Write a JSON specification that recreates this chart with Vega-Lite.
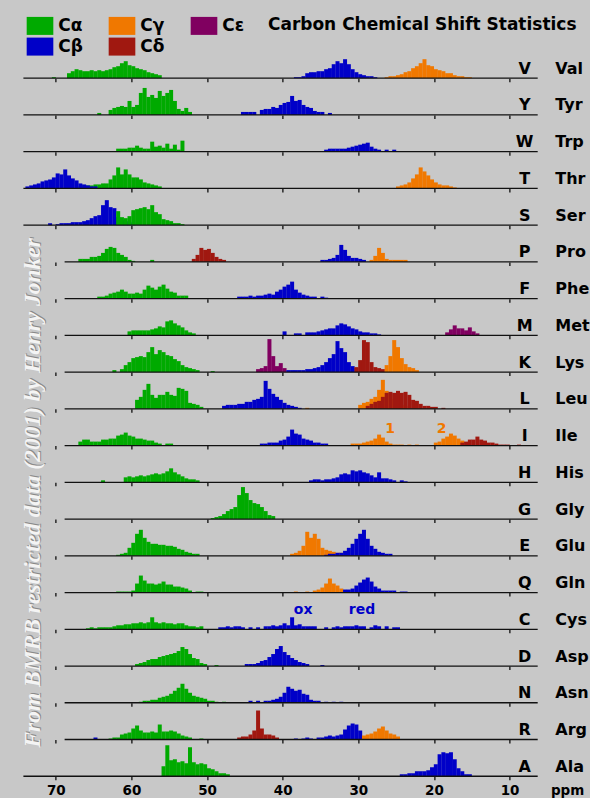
{
"background": "#c8c8c8",
"padding": {"left": 18.4, "top": 16.7, "right": 5, "bottom": 0},
"bounds": "flush",
"data": {"values": [
{"r":"V","n":"Val"},{"r":"Y","n":"Tyr"},{"r":"W","n":"Trp"},{"r":"T","n":"Thr"},{"r":"S","n":"Ser"},{"r":"P","n":"Pro"},{"r":"F","n":"Phe"},{"r":"M","n":"Met"},{"r":"K","n":"Lys"},{"r":"L","n":"Leu"},{"r":"I","n":"Ile"},{"r":"H","n":"His"},{"r":"G","n":"Gly"},{"r":"E","n":"Glu"},{"r":"Q","n":"Gln"},{"r":"C","n":"Cys"},{"r":"D","n":"Asp"},{"r":"N","n":"Asn"},{"r":"R","n":"Arg"},{"r":"A","n":"Ala"},
{"r":"I","x":25.8,"t":"1"},{"r":"I","x":19.0,"t":"2"},{"r":"C","x":37.3,"t":"ox"},{"r":"C","x":29.5,"t":"red"},
{"r":"V","c":"a","x":70.25,"y":1},{"r":"V","c":"a","x":68.25,"y":5},{"r":"V","c":"a","x":67.75,"y":7},{"r":"V","c":"a","x":67.25,"y":9},{"r":"V","c":"a","x":66.75,"y":8},{"r":"V","c":"a","x":66.25,"y":7},{"r":"V","c":"a","x":65.75,"y":7},{"r":"V","c":"a","x":65.25,"y":8},{"r":"V","c":"a","x":64.75,"y":7},{"r":"V","c":"a","x":64.25,"y":8},{"r":"V","c":"a","x":63.75,"y":7},{"r":"V","c":"a","x":63.25,"y":8},{"r":"V","c":"a","x":62.75,"y":9},{"r":"V","c":"a","x":62.25,"y":11},{"r":"V","c":"a","x":61.75,"y":12},{"r":"V","c":"a","x":61.25,"y":15},{"r":"V","c":"a","x":60.75,"y":17},{"r":"V","c":"a","x":60.25,"y":13},{"r":"V","c":"a","x":59.75,"y":12},{"r":"V","c":"a","x":59.25,"y":10},{"r":"V","c":"a","x":58.75,"y":9},{"r":"V","c":"a","x":58.25,"y":8},{"r":"V","c":"a","x":57.75,"y":6},{"r":"V","c":"a","x":57.25,"y":5},{"r":"V","c":"a","x":56.75,"y":4},{"r":"V","c":"a","x":56.25,"y":3},
{"r":"V","c":"b","x":38.25,"y":1},{"r":"V","c":"b","x":37.75,"y":1},{"r":"V","c":"b","x":37.25,"y":2},{"r":"V","c":"b","x":36.75,"y":5},{"r":"V","c":"b","x":36.25,"y":6},{"r":"V","c":"b","x":35.75,"y":6},{"r":"V","c":"b","x":35.25,"y":7},{"r":"V","c":"b","x":34.75,"y":7},{"r":"V","c":"b","x":34.25,"y":9},{"r":"V","c":"b","x":33.75,"y":10},{"r":"V","c":"b","x":33.25,"y":14},{"r":"V","c":"b","x":32.75,"y":17},{"r":"V","c":"b","x":32.25,"y":15},{"r":"V","c":"b","x":31.75,"y":19},{"r":"V","c":"b","x":31.25,"y":14},{"r":"V","c":"b","x":30.75,"y":9},{"r":"V","c":"b","x":30.25,"y":6},{"r":"V","c":"b","x":29.75,"y":4},{"r":"V","c":"b","x":29.25,"y":3},{"r":"V","c":"b","x":28.75,"y":2},{"r":"V","c":"b","x":28.25,"y":2},{"r":"V","c":"b","x":27.75,"y":1},
{"r":"V","c":"g","x":26.25,"y":1},{"r":"V","c":"g","x":25.75,"y":2},{"r":"V","c":"g","x":25.25,"y":2},{"r":"V","c":"g","x":24.75,"y":3},{"r":"V","c":"g","x":24.25,"y":4},{"r":"V","c":"g","x":23.75,"y":6},{"r":"V","c":"g","x":23.25,"y":7},{"r":"V","c":"g","x":22.75,"y":10},{"r":"V","c":"g","x":22.25,"y":12},{"r":"V","c":"g","x":21.75,"y":15},{"r":"V","c":"g","x":21.25,"y":19},{"r":"V","c":"g","x":20.75,"y":13},{"r":"V","c":"g","x":20.25,"y":12},{"r":"V","c":"g","x":19.75,"y":9},{"r":"V","c":"g","x":19.25,"y":8},{"r":"V","c":"g","x":18.75,"y":7},{"r":"V","c":"g","x":18.25,"y":5},{"r":"V","c":"g","x":17.75,"y":5},{"r":"V","c":"g","x":17.25,"y":3},{"r":"V","c":"g","x":16.75,"y":2},{"r":"V","c":"g","x":16.25,"y":2},{"r":"V","c":"g","x":15.75,"y":1},{"r":"V","c":"g","x":15.25,"y":1},
{"r":"Y","c":"a","x":64.25,"y":2},{"r":"Y","c":"a","x":62.75,"y":5},{"r":"Y","c":"a","x":62.25,"y":7},{"r":"Y","c":"a","x":61.75,"y":8},{"r":"Y","c":"a","x":61.25,"y":9},{"r":"Y","c":"a","x":60.75,"y":8},{"r":"Y","c":"a","x":60.25,"y":14},{"r":"Y","c":"a","x":59.75,"y":8},{"r":"Y","c":"a","x":59.25,"y":10},{"r":"Y","c":"a","x":58.75,"y":22},{"r":"Y","c":"a","x":58.25,"y":27},{"r":"Y","c":"a","x":57.75,"y":18},{"r":"Y","c":"a","x":57.25,"y":20},{"r":"Y","c":"a","x":56.75,"y":17},{"r":"Y","c":"a","x":56.25,"y":24},{"r":"Y","c":"a","x":55.75,"y":19},{"r":"Y","c":"a","x":55.25,"y":22},{"r":"Y","c":"a","x":54.75,"y":25},{"r":"Y","c":"a","x":54.25,"y":14},{"r":"Y","c":"a","x":53.75,"y":6},{"r":"Y","c":"a","x":53.25,"y":4},{"r":"Y","c":"a","x":52.75,"y":7},{"r":"Y","c":"a","x":52.25,"y":3},
{"r":"Y","c":"b","x":45.25,"y":3},{"r":"Y","c":"b","x":44.75,"y":3},{"r":"Y","c":"b","x":44.25,"y":3},{"r":"Y","c":"b","x":43.75,"y":3},{"r":"Y","c":"b","x":42.75,"y":5},{"r":"Y","c":"b","x":42.25,"y":6},{"r":"Y","c":"b","x":41.75,"y":6},{"r":"Y","c":"b","x":41.25,"y":8},{"r":"Y","c":"b","x":40.75,"y":7},{"r":"Y","c":"b","x":40.25,"y":10},{"r":"Y","c":"b","x":39.75,"y":12},{"r":"Y","c":"b","x":39.25,"y":13},{"r":"Y","c":"b","x":38.75,"y":19},{"r":"Y","c":"b","x":38.25,"y":14},{"r":"Y","c":"b","x":37.75,"y":15},{"r":"Y","c":"b","x":37.25,"y":10},{"r":"Y","c":"b","x":36.75,"y":8},{"r":"Y","c":"b","x":36.25,"y":7},{"r":"Y","c":"b","x":35.75,"y":4},{"r":"Y","c":"b","x":35.25,"y":3},{"r":"Y","c":"b","x":34.75,"y":3},{"r":"Y","c":"b","x":33.75,"y":2},
{"r":"W","c":"a","x":61.75,"y":3},{"r":"W","c":"a","x":61.25,"y":3},{"r":"W","c":"a","x":60.75,"y":3},{"r":"W","c":"a","x":60.25,"y":4},{"r":"W","c":"a","x":59.75,"y":4},{"r":"W","c":"a","x":59.25,"y":6},{"r":"W","c":"a","x":58.75,"y":4},{"r":"W","c":"a","x":58.25,"y":3},{"r":"W","c":"a","x":57.75,"y":3},{"r":"W","c":"a","x":57.25,"y":10},{"r":"W","c":"a","x":56.75,"y":5},{"r":"W","c":"a","x":56.25,"y":6},{"r":"W","c":"a","x":55.75,"y":4},{"r":"W","c":"a","x":55.25,"y":8},{"r":"W","c":"a","x":54.75,"y":3},{"r":"W","c":"a","x":54.25,"y":7},{"r":"W","c":"a","x":53.75,"y":2},{"r":"W","c":"a","x":53.25,"y":11},
{"r":"W","c":"b","x":34.25,"y":2},{"r":"W","c":"b","x":33.75,"y":3},{"r":"W","c":"b","x":33.25,"y":3},{"r":"W","c":"b","x":32.75,"y":3},{"r":"W","c":"b","x":32.25,"y":3},{"r":"W","c":"b","x":31.75,"y":3},{"r":"W","c":"b","x":31.25,"y":4},{"r":"W","c":"b","x":30.75,"y":5},{"r":"W","c":"b","x":30.25,"y":6},{"r":"W","c":"b","x":29.75,"y":7},{"r":"W","c":"b","x":29.25,"y":8},{"r":"W","c":"b","x":28.75,"y":9},{"r":"W","c":"b","x":28.25,"y":5},{"r":"W","c":"b","x":27.75,"y":3},{"r":"W","c":"b","x":27.25,"y":2},{"r":"W","c":"b","x":26.25,"y":2},{"r":"W","c":"b","x":25.25,"y":2},
{"r":"T","c":"a","x":66.75,"y":2},{"r":"T","c":"a","x":66.25,"y":3},{"r":"T","c":"a","x":65.75,"y":3},{"r":"T","c":"a","x":65.25,"y":3},{"r":"T","c":"a","x":64.75,"y":4},{"r":"T","c":"a","x":64.25,"y":4},{"r":"T","c":"a","x":63.75,"y":5},{"r":"T","c":"a","x":63.25,"y":5},{"r":"T","c":"a","x":62.75,"y":9},{"r":"T","c":"a","x":62.25,"y":13},{"r":"T","c":"a","x":61.75,"y":21},{"r":"T","c":"a","x":61.25,"y":14},{"r":"T","c":"a","x":60.75,"y":19},{"r":"T","c":"a","x":60.25,"y":14},{"r":"T","c":"a","x":59.75,"y":11},{"r":"T","c":"a","x":59.25,"y":11},{"r":"T","c":"a","x":58.75,"y":9},{"r":"T","c":"a","x":58.25,"y":6},{"r":"T","c":"a","x":57.75,"y":5},{"r":"T","c":"a","x":57.25,"y":4},{"r":"T","c":"a","x":56.75,"y":3},{"r":"T","c":"a","x":56.25,"y":2},
{"r":"T","c":"b","x":73.75,"y":2},{"r":"T","c":"b","x":73.25,"y":3},{"r":"T","c":"b","x":72.75,"y":4},{"r":"T","c":"b","x":72.25,"y":5},{"r":"T","c":"b","x":71.75,"y":7},{"r":"T","c":"b","x":71.25,"y":8},{"r":"T","c":"b","x":70.75,"y":9},{"r":"T","c":"b","x":70.25,"y":11},{"r":"T","c":"b","x":69.75,"y":15},{"r":"T","c":"b","x":69.25,"y":14},{"r":"T","c":"b","x":68.75,"y":19},{"r":"T","c":"b","x":68.25,"y":13},{"r":"T","c":"b","x":67.75,"y":10},{"r":"T","c":"b","x":67.25,"y":8},{"r":"T","c":"b","x":66.75,"y":5},{"r":"T","c":"b","x":66.25,"y":4},{"r":"T","c":"b","x":65.75,"y":3},{"r":"T","c":"b","x":65.25,"y":2},{"r":"T","c":"b","x":64.75,"y":2},
{"r":"T","c":"g","x":24.75,"y":2},{"r":"T","c":"g","x":24.25,"y":3},{"r":"T","c":"g","x":23.75,"y":4},{"r":"T","c":"g","x":23.25,"y":6},{"r":"T","c":"g","x":22.75,"y":10},{"r":"T","c":"g","x":22.25,"y":14},{"r":"T","c":"g","x":21.75,"y":21},{"r":"T","c":"g","x":21.25,"y":17},{"r":"T","c":"g","x":20.75,"y":13},{"r":"T","c":"g","x":20.25,"y":9},{"r":"T","c":"g","x":19.75,"y":6},{"r":"T","c":"g","x":19.25,"y":4},{"r":"T","c":"g","x":18.75,"y":3},{"r":"T","c":"g","x":18.25,"y":3},{"r":"T","c":"g","x":17.75,"y":2},{"r":"T","c":"g","x":17.25,"y":1},
{"r":"S","c":"b","x":70.75,"y":2},{"r":"S","c":"b","x":69.75,"y":1},{"r":"S","c":"b","x":69.25,"y":2},{"r":"S","c":"b","x":68.75,"y":2},{"r":"S","c":"b","x":68.25,"y":2},{"r":"S","c":"b","x":67.75,"y":3},{"r":"S","c":"b","x":67.25,"y":3},{"r":"S","c":"b","x":66.75,"y":3},{"r":"S","c":"b","x":66.25,"y":4},{"r":"S","c":"b","x":65.75,"y":5},{"r":"S","c":"b","x":65.25,"y":7},{"r":"S","c":"b","x":64.75,"y":9},{"r":"S","c":"b","x":64.25,"y":10},{"r":"S","c":"b","x":63.75,"y":20},{"r":"S","c":"b","x":63.25,"y":25},{"r":"S","c":"b","x":62.75,"y":18},{"r":"S","c":"b","x":62.25,"y":17},{"r":"S","c":"b","x":61.75,"y":8},{"r":"S","c":"b","x":61.25,"y":5},{"r":"S","c":"b","x":60.75,"y":4},{"r":"S","c":"b","x":60.25,"y":3},{"r":"S","c":"b","x":59.75,"y":2},
{"r":"S","c":"a","x":61.75,"y":14},{"r":"S","c":"a","x":61.25,"y":8},{"r":"S","c":"a","x":60.75,"y":7},{"r":"S","c":"a","x":60.25,"y":9},{"r":"S","c":"a","x":59.75,"y":15},{"r":"S","c":"a","x":59.25,"y":16},{"r":"S","c":"a","x":58.75,"y":17},{"r":"S","c":"a","x":58.25,"y":18},{"r":"S","c":"a","x":57.75,"y":16},{"r":"S","c":"a","x":57.25,"y":20},{"r":"S","c":"a","x":56.75,"y":13},{"r":"S","c":"a","x":56.25,"y":11},{"r":"S","c":"a","x":55.75,"y":6},{"r":"S","c":"a","x":55.25,"y":5},{"r":"S","c":"a","x":54.75,"y":4},{"r":"S","c":"a","x":54.25,"y":2},{"r":"S","c":"a","x":53.75,"y":2},{"r":"S","c":"a","x":53.25,"y":1},
{"r":"P","c":"a","x":66.75,"y":3},{"r":"P","c":"a","x":66.25,"y":3},{"r":"P","c":"a","x":65.75,"y":3},{"r":"P","c":"a","x":65.25,"y":5},{"r":"P","c":"a","x":64.75,"y":5},{"r":"P","c":"a","x":64.25,"y":6},{"r":"P","c":"a","x":63.75,"y":9},{"r":"P","c":"a","x":63.25,"y":13},{"r":"P","c":"a","x":62.75,"y":15},{"r":"P","c":"a","x":62.25,"y":14},{"r":"P","c":"a","x":61.75,"y":9},{"r":"P","c":"a","x":61.25,"y":7},{"r":"P","c":"a","x":60.75,"y":5},{"r":"P","c":"a","x":60.25,"y":2},{"r":"P","c":"a","x":59.75,"y":1},{"r":"P","c":"a","x":57.25,"y":2},
{"r":"P","c":"d","x":51.75,"y":3},{"r":"P","c":"d","x":51.25,"y":7},{"r":"P","c":"d","x":50.75,"y":14},{"r":"P","c":"d","x":50.25,"y":12},{"r":"P","c":"d","x":49.75,"y":13},{"r":"P","c":"d","x":49.25,"y":9},{"r":"P","c":"d","x":48.75,"y":5},{"r":"P","c":"d","x":48.25,"y":3},{"r":"P","c":"d","x":47.75,"y":2},
{"r":"P","c":"b","x":34.75,"y":2},{"r":"P","c":"b","x":34.25,"y":2},{"r":"P","c":"b","x":33.75,"y":3},{"r":"P","c":"b","x":33.25,"y":4},{"r":"P","c":"b","x":32.75,"y":7},{"r":"P","c":"b","x":32.25,"y":17},{"r":"P","c":"b","x":31.75,"y":12},{"r":"P","c":"b","x":31.25,"y":6},{"r":"P","c":"b","x":30.75,"y":4},{"r":"P","c":"b","x":30.25,"y":4},{"r":"P","c":"b","x":29.75,"y":3},{"r":"P","c":"b","x":29.25,"y":2},
{"r":"P","c":"g","x":28.25,"y":2},{"r":"P","c":"g","x":27.75,"y":6},{"r":"P","c":"g","x":27.25,"y":14},{"r":"P","c":"g","x":26.75,"y":9},{"r":"P","c":"g","x":26.25,"y":3},{"r":"P","c":"g","x":25.75,"y":2},{"r":"P","c":"g","x":25.25,"y":2},{"r":"P","c":"g","x":24.75,"y":2},{"r":"P","c":"g","x":24.25,"y":2},{"r":"P","c":"g","x":23.75,"y":2},
{"r":"F","c":"a","x":64.25,"y":2},{"r":"F","c":"a","x":63.75,"y":2},{"r":"F","c":"a","x":63.25,"y":3},{"r":"F","c":"a","x":62.75,"y":5},{"r":"F","c":"a","x":62.25,"y":6},{"r":"F","c":"a","x":61.75,"y":7},{"r":"F","c":"a","x":61.25,"y":9},{"r":"F","c":"a","x":60.75,"y":7},{"r":"F","c":"a","x":60.25,"y":5},{"r":"F","c":"a","x":59.75,"y":5},{"r":"F","c":"a","x":59.25,"y":6},{"r":"F","c":"a","x":58.75,"y":5},{"r":"F","c":"a","x":58.25,"y":9},{"r":"F","c":"a","x":57.75,"y":13},{"r":"F","c":"a","x":57.25,"y":11},{"r":"F","c":"a","x":56.75,"y":9},{"r":"F","c":"a","x":56.25,"y":12},{"r":"F","c":"a","x":55.75,"y":14},{"r":"F","c":"a","x":55.25,"y":10},{"r":"F","c":"a","x":54.75,"y":7},{"r":"F","c":"a","x":54.25,"y":6},{"r":"F","c":"a","x":53.75,"y":3},{"r":"F","c":"a","x":53.25,"y":3},{"r":"F","c":"a","x":52.75,"y":3},
{"r":"F","c":"b","x":45.75,"y":2},{"r":"F","c":"b","x":45.25,"y":2},{"r":"F","c":"b","x":44.75,"y":2},{"r":"F","c":"b","x":44.25,"y":3},{"r":"F","c":"b","x":43.75,"y":2},{"r":"F","c":"b","x":43.25,"y":3},{"r":"F","c":"b","x":42.75,"y":3},{"r":"F","c":"b","x":42.25,"y":4},{"r":"F","c":"b","x":41.75,"y":5},{"r":"F","c":"b","x":41.25,"y":4},{"r":"F","c":"b","x":40.75,"y":7},{"r":"F","c":"b","x":40.25,"y":9},{"r":"F","c":"b","x":39.75,"y":12},{"r":"F","c":"b","x":39.25,"y":14},{"r":"F","c":"b","x":38.75,"y":17},{"r":"F","c":"b","x":38.25,"y":9},{"r":"F","c":"b","x":37.75,"y":6},{"r":"F","c":"b","x":37.25,"y":4},{"r":"F","c":"b","x":36.75,"y":3},{"r":"F","c":"b","x":36.25,"y":2},{"r":"F","c":"b","x":35.75,"y":2},{"r":"F","c":"b","x":34.75,"y":2},{"r":"F","c":"b","x":34.25,"y":1},
{"r":"M","c":"a","x":60.25,"y":4},{"r":"M","c":"a","x":59.75,"y":5},{"r":"M","c":"a","x":59.25,"y":5},{"r":"M","c":"a","x":58.75,"y":5},{"r":"M","c":"a","x":58.25,"y":5},{"r":"M","c":"a","x":57.75,"y":5},{"r":"M","c":"a","x":57.25,"y":6},{"r":"M","c":"a","x":56.75,"y":7},{"r":"M","c":"a","x":56.25,"y":9},{"r":"M","c":"a","x":55.75,"y":8},{"r":"M","c":"a","x":55.25,"y":14},{"r":"M","c":"a","x":54.75,"y":15},{"r":"M","c":"a","x":54.25,"y":12},{"r":"M","c":"a","x":53.75,"y":10},{"r":"M","c":"a","x":53.25,"y":8},{"r":"M","c":"a","x":52.75,"y":5},{"r":"M","c":"a","x":52.25,"y":3},{"r":"M","c":"a","x":51.75,"y":2},
{"r":"M","c":"b","x":39.75,"y":4},{"r":"M","c":"b","x":38.25,"y":2},{"r":"M","c":"b","x":37.75,"y":2},{"r":"M","c":"b","x":36.75,"y":3},{"r":"M","c":"b","x":36.25,"y":3},{"r":"M","c":"b","x":35.75,"y":3},{"r":"M","c":"b","x":35.25,"y":4},{"r":"M","c":"b","x":34.75,"y":5},{"r":"M","c":"b","x":34.25,"y":6},{"r":"M","c":"b","x":33.75,"y":7},{"r":"M","c":"b","x":33.25,"y":7},{"r":"M","c":"b","x":32.75,"y":10},{"r":"M","c":"b","x":32.25,"y":12},{"r":"M","c":"b","x":31.75,"y":11},{"r":"M","c":"b","x":31.25,"y":9},{"r":"M","c":"b","x":30.75,"y":7},{"r":"M","c":"b","x":30.25,"y":6},{"r":"M","c":"b","x":29.75,"y":4},{"r":"M","c":"b","x":29.25,"y":3},{"r":"M","c":"b","x":28.75,"y":3},{"r":"M","c":"b","x":28.25,"y":2},{"r":"M","c":"b","x":27.75,"y":2},{"r":"M","c":"b","x":27.25,"y":1},
{"r":"M","c":"e","x":18.25,"y":3},{"r":"M","c":"e","x":17.75,"y":6},{"r":"M","c":"e","x":17.25,"y":10},{"r":"M","c":"e","x":16.75,"y":7},{"r":"M","c":"e","x":16.25,"y":7},{"r":"M","c":"e","x":15.75,"y":5},{"r":"M","c":"e","x":15.25,"y":8},{"r":"M","c":"e","x":14.75,"y":4},{"r":"M","c":"e","x":14.25,"y":2},
{"r":"K","c":"a","x":62.25,"y":2},{"r":"K","c":"a","x":61.25,"y":3},{"r":"K","c":"a","x":60.75,"y":7},{"r":"K","c":"a","x":60.25,"y":10},{"r":"K","c":"a","x":59.75,"y":14},{"r":"K","c":"a","x":59.25,"y":15},{"r":"K","c":"a","x":58.75,"y":16},{"r":"K","c":"a","x":58.25,"y":15},{"r":"K","c":"a","x":57.75,"y":20},{"r":"K","c":"a","x":57.25,"y":25},{"r":"K","c":"a","x":56.75,"y":18},{"r":"K","c":"a","x":56.25,"y":22},{"r":"K","c":"a","x":55.75,"y":20},{"r":"K","c":"a","x":55.25,"y":17},{"r":"K","c":"a","x":54.75,"y":16},{"r":"K","c":"a","x":54.25,"y":13},{"r":"K","c":"a","x":53.75,"y":11},{"r":"K","c":"a","x":53.25,"y":7},{"r":"K","c":"a","x":52.75,"y":5},{"r":"K","c":"a","x":52.25,"y":4},{"r":"K","c":"a","x":51.75,"y":3},{"r":"K","c":"a","x":51.25,"y":2},{"r":"K","c":"a","x":49.25,"y":1},
{"r":"K","c":"e","x":43.25,"y":3},{"r":"K","c":"e","x":42.75,"y":4},{"r":"K","c":"e","x":42.25,"y":6},{"r":"K","c":"e","x":41.75,"y":33},{"r":"K","c":"e","x":41.25,"y":16},{"r":"K","c":"e","x":40.75,"y":6},{"r":"K","c":"e","x":40.25,"y":9},{"r":"K","c":"e","x":39.75,"y":4},
{"r":"K","c":"b","x":39.25,"y":2},{"r":"K","c":"b","x":38.75,"y":2},{"r":"K","c":"b","x":38.25,"y":2},{"r":"K","c":"b","x":37.75,"y":2},{"r":"K","c":"b","x":37.25,"y":2},{"r":"K","c":"b","x":36.75,"y":3},{"r":"K","c":"b","x":36.25,"y":3},{"r":"K","c":"b","x":35.75,"y":4},{"r":"K","c":"b","x":35.25,"y":5},{"r":"K","c":"b","x":34.75,"y":7},{"r":"K","c":"b","x":34.25,"y":10},{"r":"K","c":"b","x":33.75,"y":14},{"r":"K","c":"b","x":33.25,"y":18},{"r":"K","c":"b","x":32.75,"y":31},{"r":"K","c":"b","x":32.25,"y":24},{"r":"K","c":"b","x":31.75,"y":20},{"r":"K","c":"b","x":31.25,"y":10},{"r":"K","c":"b","x":30.75,"y":6},{"r":"K","c":"b","x":30.25,"y":4},
{"r":"K","c":"d","x":30.25,"y":5},{"r":"K","c":"d","x":29.75,"y":12},{"r":"K","c":"d","x":29.25,"y":32},{"r":"K","c":"d","x":28.75,"y":30},{"r":"K","c":"d","x":28.25,"y":10},{"r":"K","c":"d","x":27.75,"y":5},{"r":"K","c":"d","x":27.25,"y":4},{"r":"K","c":"d","x":26.75,"y":3},
{"r":"K","c":"g","x":26.25,"y":7},{"r":"K","c":"g","x":25.75,"y":16},{"r":"K","c":"g","x":25.25,"y":32},{"r":"K","c":"g","x":24.75,"y":25},{"r":"K","c":"g","x":24.25,"y":14},{"r":"K","c":"g","x":23.75,"y":8},{"r":"K","c":"g","x":23.25,"y":5},{"r":"K","c":"g","x":22.75,"y":4},{"r":"K","c":"g","x":22.25,"y":2},
{"r":"L","c":"a","x":59.25,"y":9},{"r":"L","c":"a","x":58.75,"y":12},{"r":"L","c":"a","x":58.25,"y":19},{"r":"L","c":"a","x":57.75,"y":25},{"r":"L","c":"a","x":57.25,"y":14},{"r":"L","c":"a","x":56.75,"y":11},{"r":"L","c":"a","x":56.25,"y":14},{"r":"L","c":"a","x":55.75,"y":14},{"r":"L","c":"a","x":55.25,"y":17},{"r":"L","c":"a","x":54.75,"y":14},{"r":"L","c":"a","x":54.25,"y":13},{"r":"L","c":"a","x":53.75,"y":21},{"r":"L","c":"a","x":53.25,"y":20},{"r":"L","c":"a","x":52.75,"y":18},{"r":"L","c":"a","x":52.25,"y":6},{"r":"L","c":"a","x":51.75,"y":5},{"r":"L","c":"a","x":51.25,"y":4},{"r":"L","c":"a","x":50.75,"y":2},
{"r":"L","c":"b","x":47.75,"y":3},{"r":"L","c":"b","x":47.25,"y":4},{"r":"L","c":"b","x":46.75,"y":4},{"r":"L","c":"b","x":46.25,"y":4},{"r":"L","c":"b","x":45.75,"y":5},{"r":"L","c":"b","x":45.25,"y":5},{"r":"L","c":"b","x":44.75,"y":7},{"r":"L","c":"b","x":44.25,"y":7},{"r":"L","c":"b","x":43.75,"y":9},{"r":"L","c":"b","x":43.25,"y":10},{"r":"L","c":"b","x":42.75,"y":12},{"r":"L","c":"b","x":42.25,"y":28},{"r":"L","c":"b","x":41.75,"y":20},{"r":"L","c":"b","x":41.25,"y":15},{"r":"L","c":"b","x":40.75,"y":12},{"r":"L","c":"b","x":40.25,"y":9},{"r":"L","c":"b","x":39.75,"y":6},{"r":"L","c":"b","x":39.25,"y":4},{"r":"L","c":"b","x":38.75,"y":3},{"r":"L","c":"b","x":38.25,"y":2},{"r":"L","c":"b","x":37.75,"y":1},
{"r":"L","c":"g","x":36.75,"y":1},{"r":"L","c":"g","x":29.75,"y":4},{"r":"L","c":"g","x":29.25,"y":6},{"r":"L","c":"g","x":28.75,"y":7},{"r":"L","c":"g","x":28.25,"y":10},{"r":"L","c":"g","x":27.75,"y":12},{"r":"L","c":"g","x":27.25,"y":19},{"r":"L","c":"g","x":26.75,"y":29},{"r":"L","c":"g","x":26.25,"y":18},{"r":"L","c":"g","x":25.75,"y":14},{"r":"L","c":"g","x":25.25,"y":10},{"r":"L","c":"g","x":24.75,"y":7},{"r":"L","c":"g","x":24.25,"y":4},{"r":"L","c":"g","x":23.75,"y":3},
{"r":"L","c":"d","x":28.75,"y":3},{"r":"L","c":"d","x":28.25,"y":5},{"r":"L","c":"d","x":27.75,"y":7},{"r":"L","c":"d","x":27.25,"y":8},{"r":"L","c":"d","x":26.75,"y":12},{"r":"L","c":"d","x":26.25,"y":16},{"r":"L","c":"d","x":25.75,"y":17},{"r":"L","c":"d","x":25.25,"y":16},{"r":"L","c":"d","x":24.75,"y":18},{"r":"L","c":"d","x":24.25,"y":16},{"r":"L","c":"d","x":23.75,"y":17},{"r":"L","c":"d","x":23.25,"y":14},{"r":"L","c":"d","x":22.75,"y":9},{"r":"L","c":"d","x":22.25,"y":8},{"r":"L","c":"d","x":21.75,"y":5},{"r":"L","c":"d","x":21.25,"y":3},{"r":"L","c":"d","x":20.75,"y":3},{"r":"L","c":"d","x":20.25,"y":2},{"r":"L","c":"d","x":19.75,"y":2},{"r":"L","c":"d","x":18.75,"y":1},
{"r":"I","c":"a","x":66.75,"y":4},{"r":"I","c":"a","x":66.25,"y":6},{"r":"I","c":"a","x":65.75,"y":6},{"r":"I","c":"a","x":65.25,"y":4},{"r":"I","c":"a","x":64.75,"y":4},{"r":"I","c":"a","x":64.25,"y":4},{"r":"I","c":"a","x":63.75,"y":6},{"r":"I","c":"a","x":63.25,"y":6},{"r":"I","c":"a","x":62.75,"y":7},{"r":"I","c":"a","x":62.25,"y":7},{"r":"I","c":"a","x":61.75,"y":10},{"r":"I","c":"a","x":61.25,"y":11},{"r":"I","c":"a","x":60.75,"y":13},{"r":"I","c":"a","x":60.25,"y":10},{"r":"I","c":"a","x":59.75,"y":9},{"r":"I","c":"a","x":59.25,"y":7},{"r":"I","c":"a","x":58.75,"y":7},{"r":"I","c":"a","x":58.25,"y":6},{"r":"I","c":"a","x":57.75,"y":5},{"r":"I","c":"a","x":57.25,"y":5},{"r":"I","c":"a","x":56.75,"y":3},{"r":"I","c":"a","x":56.25,"y":2},{"r":"I","c":"a","x":55.25,"y":2},{"r":"I","c":"a","x":54.75,"y":2},
{"r":"I","c":"b","x":42.75,"y":2},{"r":"I","c":"b","x":42.25,"y":2},{"r":"I","c":"b","x":41.75,"y":3},{"r":"I","c":"b","x":41.25,"y":3},{"r":"I","c":"b","x":40.75,"y":3},{"r":"I","c":"b","x":40.25,"y":5},{"r":"I","c":"b","x":39.75,"y":6},{"r":"I","c":"b","x":39.25,"y":9},{"r":"I","c":"b","x":38.75,"y":16},{"r":"I","c":"b","x":38.25,"y":12},{"r":"I","c":"b","x":37.75,"y":11},{"r":"I","c":"b","x":37.25,"y":7},{"r":"I","c":"b","x":36.75,"y":6},{"r":"I","c":"b","x":36.25,"y":5},{"r":"I","c":"b","x":35.75,"y":3},{"r":"I","c":"b","x":35.25,"y":3},{"r":"I","c":"b","x":34.75,"y":2},{"r":"I","c":"b","x":34.25,"y":2},
{"r":"I","c":"g","x":30.75,"y":2},{"r":"I","c":"g","x":30.25,"y":2},{"r":"I","c":"g","x":29.75,"y":2},{"r":"I","c":"g","x":29.25,"y":3},{"r":"I","c":"g","x":28.75,"y":4},{"r":"I","c":"g","x":28.25,"y":5},{"r":"I","c":"g","x":27.75,"y":7},{"r":"I","c":"g","x":27.25,"y":11},{"r":"I","c":"g","x":26.75,"y":8},{"r":"I","c":"g","x":26.25,"y":4},{"r":"I","c":"g","x":25.75,"y":2},{"r":"I","c":"g","x":25.25,"y":1},{"r":"I","c":"g","x":24.75,"y":1},{"r":"I","c":"g","x":24.25,"y":1},{"r":"I","c":"g","x":23.25,"y":1},{"r":"I","c":"g","x":22.25,"y":1},{"r":"I","c":"g","x":19.75,"y":3},{"r":"I","c":"g","x":19.25,"y":4},{"r":"I","c":"g","x":18.75,"y":7},{"r":"I","c":"g","x":18.25,"y":9},{"r":"I","c":"g","x":17.75,"y":12},{"r":"I","c":"g","x":17.25,"y":10},{"r":"I","c":"g","x":16.75,"y":7},{"r":"I","c":"g","x":16.25,"y":5},
{"r":"I","c":"d","x":16.25,"y":3},{"r":"I","c":"d","x":15.75,"y":4},{"r":"I","c":"d","x":15.25,"y":6},{"r":"I","c":"d","x":14.75,"y":6},{"r":"I","c":"d","x":14.25,"y":9},{"r":"I","c":"d","x":13.75,"y":6},{"r":"I","c":"d","x":13.25,"y":5},{"r":"I","c":"d","x":12.75,"y":3},{"r":"I","c":"d","x":12.25,"y":3},{"r":"I","c":"d","x":11.75,"y":2},{"r":"I","c":"d","x":11.25,"y":1},{"r":"I","c":"d","x":10.75,"y":1},{"r":"I","c":"d","x":10.25,"y":1},{"r":"I","c":"d","x":8.75,"y":1},
{"r":"H","c":"a","x":63.75,"y":2},{"r":"H","c":"a","x":60.75,"y":5},{"r":"H","c":"a","x":60.25,"y":6},{"r":"H","c":"a","x":59.75,"y":5},{"r":"H","c":"a","x":59.25,"y":6},{"r":"H","c":"a","x":58.75,"y":7},{"r":"H","c":"a","x":58.25,"y":6},{"r":"H","c":"a","x":57.75,"y":7},{"r":"H","c":"a","x":57.25,"y":8},{"r":"H","c":"a","x":56.75,"y":9},{"r":"H","c":"a","x":56.25,"y":8},{"r":"H","c":"a","x":55.75,"y":9},{"r":"H","c":"a","x":55.25,"y":11},{"r":"H","c":"a","x":54.75,"y":14},{"r":"H","c":"a","x":54.25,"y":10},{"r":"H","c":"a","x":53.75,"y":8},{"r":"H","c":"a","x":53.25,"y":6},{"r":"H","c":"a","x":52.75,"y":4},{"r":"H","c":"a","x":52.25,"y":3},{"r":"H","c":"a","x":51.75,"y":3},{"r":"H","c":"a","x":51.25,"y":2},
{"r":"H","c":"b","x":36.25,"y":2},{"r":"H","c":"b","x":35.75,"y":3},{"r":"H","c":"b","x":35.25,"y":3},{"r":"H","c":"b","x":34.75,"y":2},{"r":"H","c":"b","x":34.25,"y":3},{"r":"H","c":"b","x":33.75,"y":3},{"r":"H","c":"b","x":33.25,"y":4},{"r":"H","c":"b","x":32.75,"y":5},{"r":"H","c":"b","x":32.25,"y":8},{"r":"H","c":"b","x":31.75,"y":9},{"r":"H","c":"b","x":31.25,"y":8},{"r":"H","c":"b","x":30.75,"y":12},{"r":"H","c":"b","x":30.25,"y":11},{"r":"H","c":"b","x":29.75,"y":12},{"r":"H","c":"b","x":29.25,"y":10},{"r":"H","c":"b","x":28.75,"y":9},{"r":"H","c":"b","x":28.25,"y":7},{"r":"H","c":"b","x":27.75,"y":5},{"r":"H","c":"b","x":27.25,"y":10},{"r":"H","c":"b","x":26.75,"y":4},{"r":"H","c":"b","x":26.25,"y":4},{"r":"H","c":"b","x":25.75,"y":3},{"r":"H","c":"b","x":25.25,"y":2},{"r":"H","c":"b","x":24.25,"y":2},{"r":"H","c":"b","x":23.75,"y":1},
{"r":"G","c":"a","x":49.25,"y":1},{"r":"G","c":"a","x":48.75,"y":2},{"r":"G","c":"a","x":48.25,"y":3},{"r":"G","c":"a","x":47.75,"y":5},{"r":"G","c":"a","x":47.25,"y":8},{"r":"G","c":"a","x":46.75,"y":10},{"r":"G","c":"a","x":46.25,"y":12},{"r":"G","c":"a","x":45.75,"y":24},{"r":"G","c":"a","x":45.25,"y":32},{"r":"G","c":"a","x":44.75,"y":26},{"r":"G","c":"a","x":44.25,"y":19},{"r":"G","c":"a","x":43.75,"y":16},{"r":"G","c":"a","x":43.25,"y":15},{"r":"G","c":"a","x":42.75,"y":12},{"r":"G","c":"a","x":42.25,"y":8},{"r":"G","c":"a","x":41.75,"y":4},{"r":"G","c":"a","x":41.25,"y":3},
{"r":"E","c":"a","x":61.75,"y":1},{"r":"E","c":"a","x":61.25,"y":2},{"r":"E","c":"a","x":60.75,"y":3},{"r":"E","c":"a","x":60.25,"y":8},{"r":"E","c":"a","x":59.75,"y":13},{"r":"E","c":"a","x":59.25,"y":22},{"r":"E","c":"a","x":58.75,"y":26},{"r":"E","c":"a","x":58.25,"y":18},{"r":"E","c":"a","x":57.75,"y":14},{"r":"E","c":"a","x":57.25,"y":12},{"r":"E","c":"a","x":56.75,"y":12},{"r":"E","c":"a","x":56.25,"y":11},{"r":"E","c":"a","x":55.75,"y":11},{"r":"E","c":"a","x":55.25,"y":10},{"r":"E","c":"a","x":54.75,"y":10},{"r":"E","c":"a","x":54.25,"y":9},{"r":"E","c":"a","x":53.75,"y":7},{"r":"E","c":"a","x":53.25,"y":6},{"r":"E","c":"a","x":52.75,"y":4},{"r":"E","c":"a","x":52.25,"y":3},{"r":"E","c":"a","x":51.75,"y":2},{"r":"E","c":"a","x":51.25,"y":2},
{"r":"E","c":"g","x":38.75,"y":2},{"r":"E","c":"g","x":38.25,"y":3},{"r":"E","c":"g","x":37.75,"y":5},{"r":"E","c":"g","x":37.25,"y":10},{"r":"E","c":"g","x":36.75,"y":24},{"r":"E","c":"g","x":36.25,"y":18},{"r":"E","c":"g","x":35.75,"y":22},{"r":"E","c":"g","x":35.25,"y":17},{"r":"E","c":"g","x":34.75,"y":8},{"r":"E","c":"g","x":34.25,"y":6},{"r":"E","c":"g","x":33.75,"y":5},{"r":"E","c":"g","x":33.25,"y":4},{"r":"E","c":"g","x":32.75,"y":3},{"r":"E","c":"g","x":32.25,"y":3},
{"r":"E","c":"b","x":34.25,"y":1},{"r":"E","c":"b","x":33.75,"y":2},{"r":"E","c":"b","x":33.25,"y":2},{"r":"E","c":"b","x":32.75,"y":3},{"r":"E","c":"b","x":32.25,"y":3},{"r":"E","c":"b","x":31.75,"y":5},{"r":"E","c":"b","x":31.25,"y":8},{"r":"E","c":"b","x":30.75,"y":12},{"r":"E","c":"b","x":30.25,"y":17},{"r":"E","c":"b","x":29.75,"y":22},{"r":"E","c":"b","x":29.25,"y":26},{"r":"E","c":"b","x":28.75,"y":17},{"r":"E","c":"b","x":28.25,"y":10},{"r":"E","c":"b","x":27.75,"y":7},{"r":"E","c":"b","x":27.25,"y":4},{"r":"E","c":"b","x":26.75,"y":3},{"r":"E","c":"b","x":26.25,"y":2},{"r":"E","c":"b","x":25.75,"y":2},
{"r":"Q","c":"a","x":61.75,"y":1},{"r":"Q","c":"a","x":61.25,"y":1},{"r":"Q","c":"a","x":60.75,"y":1},{"r":"Q","c":"a","x":60.25,"y":1},{"r":"Q","c":"a","x":59.75,"y":2},{"r":"Q","c":"a","x":59.25,"y":9},{"r":"Q","c":"a","x":58.75,"y":17},{"r":"Q","c":"a","x":58.25,"y":12},{"r":"Q","c":"a","x":57.75,"y":9},{"r":"Q","c":"a","x":57.25,"y":9},{"r":"Q","c":"a","x":56.75,"y":8},{"r":"Q","c":"a","x":56.25,"y":9},{"r":"Q","c":"a","x":55.75,"y":11},{"r":"Q","c":"a","x":55.25,"y":8},{"r":"Q","c":"a","x":54.75,"y":8},{"r":"Q","c":"a","x":54.25,"y":6},{"r":"Q","c":"a","x":53.75,"y":6},{"r":"Q","c":"a","x":53.25,"y":5},{"r":"Q","c":"a","x":52.75,"y":4},{"r":"Q","c":"a","x":52.25,"y":2},{"r":"Q","c":"a","x":51.25,"y":1},{"r":"Q","c":"a","x":50.75,"y":1},
{"r":"Q","c":"g","x":38.25,"y":1},{"r":"Q","c":"g","x":36.75,"y":1},{"r":"Q","c":"g","x":35.75,"y":2},{"r":"Q","c":"g","x":35.25,"y":3},{"r":"Q","c":"g","x":34.75,"y":5},{"r":"Q","c":"g","x":34.25,"y":9},{"r":"Q","c":"g","x":33.75,"y":14},{"r":"Q","c":"g","x":33.25,"y":9},{"r":"Q","c":"g","x":32.75,"y":7},{"r":"Q","c":"g","x":32.25,"y":4},{"r":"Q","c":"g","x":31.75,"y":2},
{"r":"Q","c":"b","x":31.75,"y":3},{"r":"Q","c":"b","x":31.25,"y":3},{"r":"Q","c":"b","x":30.75,"y":4},{"r":"Q","c":"b","x":30.25,"y":7},{"r":"Q","c":"b","x":29.75,"y":10},{"r":"Q","c":"b","x":29.25,"y":13},{"r":"Q","c":"b","x":28.75,"y":15},{"r":"Q","c":"b","x":28.25,"y":11},{"r":"Q","c":"b","x":27.75,"y":6},{"r":"Q","c":"b","x":27.25,"y":4},{"r":"Q","c":"b","x":26.75,"y":2},{"r":"Q","c":"b","x":26.25,"y":2},{"r":"Q","c":"b","x":25.75,"y":2},{"r":"Q","c":"b","x":25.25,"y":2},{"r":"Q","c":"b","x":24.25,"y":1},{"r":"Q","c":"b","x":23.75,"y":1},
{"r":"C","c":"a","x":65.75,"y":1},{"r":"C","c":"a","x":65.25,"y":2},{"r":"C","c":"a","x":64.75,"y":1},{"r":"C","c":"a","x":64.25,"y":2},{"r":"C","c":"a","x":63.75,"y":2},{"r":"C","c":"a","x":63.25,"y":2},{"r":"C","c":"a","x":62.75,"y":2},{"r":"C","c":"a","x":62.25,"y":3},{"r":"C","c":"a","x":61.75,"y":4},{"r":"C","c":"a","x":61.25,"y":4},{"r":"C","c":"a","x":60.75,"y":5},{"r":"C","c":"a","x":60.25,"y":5},{"r":"C","c":"a","x":59.75,"y":6},{"r":"C","c":"a","x":59.25,"y":6},{"r":"C","c":"a","x":58.75,"y":7},{"r":"C","c":"a","x":58.25,"y":6},{"r":"C","c":"a","x":57.75,"y":7},{"r":"C","c":"a","x":57.25,"y":12},{"r":"C","c":"a","x":56.75,"y":7},{"r":"C","c":"a","x":56.25,"y":6},{"r":"C","c":"a","x":55.75,"y":7},{"r":"C","c":"a","x":55.25,"y":6},{"r":"C","c":"a","x":54.75,"y":6},{"r":"C","c":"a","x":54.25,"y":5},{"r":"C","c":"a","x":53.75,"y":6},{"r":"C","c":"a","x":53.25,"y":6},{"r":"C","c":"a","x":52.75,"y":4},{"r":"C","c":"a","x":52.25,"y":3},{"r":"C","c":"a","x":51.75,"y":3},{"r":"C","c":"a","x":51.25,"y":2},{"r":"C","c":"a","x":50.75,"y":3},
{"r":"C","c":"b","x":48.25,"y":2},{"r":"C","c":"b","x":47.75,"y":2},{"r":"C","c":"b","x":47.25,"y":3},{"r":"C","c":"b","x":46.75,"y":2},{"r":"C","c":"b","x":46.25,"y":3},{"r":"C","c":"b","x":45.75,"y":3},{"r":"C","c":"b","x":45.25,"y":2},{"r":"C","c":"b","x":44.25,"y":2},{"r":"C","c":"b","x":43.25,"y":2},{"r":"C","c":"b","x":42.25,"y":3},{"r":"C","c":"b","x":41.75,"y":3},{"r":"C","c":"b","x":41.25,"y":4},{"r":"C","c":"b","x":40.75,"y":3},{"r":"C","c":"b","x":40.25,"y":4},{"r":"C","c":"b","x":39.75,"y":6},{"r":"C","c":"b","x":39.25,"y":4},{"r":"C","c":"b","x":38.75,"y":12},{"r":"C","c":"b","x":38.25,"y":4},{"r":"C","c":"b","x":37.75,"y":5},{"r":"C","c":"b","x":37.25,"y":3},{"r":"C","c":"b","x":36.75,"y":3},{"r":"C","c":"b","x":36.25,"y":3},{"r":"C","c":"b","x":35.75,"y":3},{"r":"C","c":"b","x":34.25,"y":2},{"r":"C","c":"b","x":33.25,"y":2},{"r":"C","c":"b","x":32.75,"y":3},{"r":"C","c":"b","x":32.25,"y":2},{"r":"C","c":"b","x":31.75,"y":3},{"r":"C","c":"b","x":31.25,"y":3},{"r":"C","c":"b","x":30.75,"y":3},{"r":"C","c":"b","x":30.25,"y":4},{"r":"C","c":"b","x":29.75,"y":3},{"r":"C","c":"b","x":29.25,"y":3},{"r":"C","c":"b","x":28.25,"y":2},{"r":"C","c":"b","x":27.75,"y":4},{"r":"C","c":"b","x":27.25,"y":3},{"r":"C","c":"b","x":26.25,"y":3},{"r":"C","c":"b","x":25.25,"y":2},{"r":"C","c":"b","x":24.75,"y":2},
{"r":"D","c":"a","x":59.25,"y":2},{"r":"D","c":"a","x":58.75,"y":3},{"r":"D","c":"a","x":58.25,"y":4},{"r":"D","c":"a","x":57.75,"y":6},{"r":"D","c":"a","x":57.25,"y":7},{"r":"D","c":"a","x":56.75,"y":7},{"r":"D","c":"a","x":56.25,"y":9},{"r":"D","c":"a","x":55.75,"y":10},{"r":"D","c":"a","x":55.25,"y":11},{"r":"D","c":"a","x":54.75,"y":12},{"r":"D","c":"a","x":54.25,"y":13},{"r":"D","c":"a","x":53.75,"y":15},{"r":"D","c":"a","x":53.25,"y":19},{"r":"D","c":"a","x":52.75,"y":17},{"r":"D","c":"a","x":52.25,"y":12},{"r":"D","c":"a","x":51.75,"y":8},{"r":"D","c":"a","x":51.25,"y":7},{"r":"D","c":"a","x":50.75,"y":3},{"r":"D","c":"a","x":50.25,"y":2},{"r":"D","c":"a","x":48.75,"y":1},
{"r":"D","c":"b","x":44.75,"y":2},{"r":"D","c":"b","x":44.25,"y":2},{"r":"D","c":"b","x":43.75,"y":2},{"r":"D","c":"b","x":43.25,"y":3},{"r":"D","c":"b","x":42.75,"y":5},{"r":"D","c":"b","x":42.25,"y":6},{"r":"D","c":"b","x":41.75,"y":9},{"r":"D","c":"b","x":41.25,"y":12},{"r":"D","c":"b","x":40.75,"y":17},{"r":"D","c":"b","x":40.25,"y":20},{"r":"D","c":"b","x":39.75,"y":14},{"r":"D","c":"b","x":39.25,"y":11},{"r":"D","c":"b","x":38.75,"y":8},{"r":"D","c":"b","x":38.25,"y":6},{"r":"D","c":"b","x":37.75,"y":4},{"r":"D","c":"b","x":37.25,"y":3},{"r":"D","c":"b","x":36.75,"y":2},{"r":"D","c":"b","x":34.75,"y":1},
{"r":"N","c":"a","x":58.75,"y":1},{"r":"N","c":"a","x":58.25,"y":2},{"r":"N","c":"a","x":57.75,"y":2},{"r":"N","c":"a","x":57.25,"y":3},{"r":"N","c":"a","x":56.75,"y":3},{"r":"N","c":"a","x":56.25,"y":5},{"r":"N","c":"a","x":55.75,"y":6},{"r":"N","c":"a","x":55.25,"y":7},{"r":"N","c":"a","x":54.75,"y":9},{"r":"N","c":"a","x":54.25,"y":12},{"r":"N","c":"a","x":53.75,"y":15},{"r":"N","c":"a","x":53.25,"y":19},{"r":"N","c":"a","x":52.75,"y":14},{"r":"N","c":"a","x":52.25,"y":10},{"r":"N","c":"a","x":51.75,"y":7},{"r":"N","c":"a","x":51.25,"y":6},{"r":"N","c":"a","x":50.75,"y":5},{"r":"N","c":"a","x":50.25,"y":4},{"r":"N","c":"a","x":49.75,"y":2},{"r":"N","c":"a","x":49.25,"y":2},{"r":"N","c":"a","x":48.75,"y":1},{"r":"N","c":"a","x":47.75,"y":1},
{"r":"N","c":"b","x":44.25,"y":2},{"r":"N","c":"b","x":43.25,"y":2},{"r":"N","c":"b","x":42.25,"y":2},{"r":"N","c":"b","x":41.75,"y":2},{"r":"N","c":"b","x":41.25,"y":3},{"r":"N","c":"b","x":40.75,"y":4},{"r":"N","c":"b","x":40.25,"y":6},{"r":"N","c":"b","x":39.75,"y":10},{"r":"N","c":"b","x":39.25,"y":16},{"r":"N","c":"b","x":38.75,"y":14},{"r":"N","c":"b","x":38.25,"y":12},{"r":"N","c":"b","x":37.75,"y":13},{"r":"N","c":"b","x":37.25,"y":9},{"r":"N","c":"b","x":36.75,"y":8},{"r":"N","c":"b","x":36.25,"y":3},{"r":"N","c":"b","x":35.75,"y":2},{"r":"N","c":"b","x":35.25,"y":2},{"r":"N","c":"b","x":34.25,"y":1},{"r":"N","c":"b","x":33.25,"y":1},{"r":"N","c":"b","x":32.25,"y":1},
{"r":"R","c":"a","x":62.75,"y":1},{"r":"R","c":"a","x":62.25,"y":2},{"r":"R","c":"a","x":61.75,"y":2},{"r":"R","c":"a","x":61.25,"y":5},{"r":"R","c":"a","x":60.75,"y":6},{"r":"R","c":"a","x":60.25,"y":7},{"r":"R","c":"a","x":59.75,"y":11},{"r":"R","c":"a","x":59.25,"y":14},{"r":"R","c":"a","x":58.75,"y":9},{"r":"R","c":"a","x":58.25,"y":7},{"r":"R","c":"a","x":57.75,"y":7},{"r":"R","c":"a","x":57.25,"y":8},{"r":"R","c":"a","x":56.75,"y":7},{"r":"R","c":"a","x":56.25,"y":15},{"r":"R","c":"a","x":55.75,"y":8},{"r":"R","c":"a","x":55.25,"y":8},{"r":"R","c":"a","x":54.75,"y":9},{"r":"R","c":"a","x":54.25,"y":8},{"r":"R","c":"a","x":53.75,"y":6},{"r":"R","c":"a","x":53.25,"y":4},{"r":"R","c":"a","x":52.75,"y":3},{"r":"R","c":"a","x":52.25,"y":2},{"r":"R","c":"a","x":50.75,"y":1},
{"r":"R","c":"b","x":64.75,"y":2},{"r":"R","c":"b","x":38.25,"y":1},{"r":"R","c":"b","x":37.25,"y":1},{"r":"R","c":"b","x":36.75,"y":2},{"r":"R","c":"b","x":36.25,"y":1},{"r":"R","c":"b","x":35.25,"y":2},{"r":"R","c":"b","x":34.75,"y":2},{"r":"R","c":"b","x":34.25,"y":3},{"r":"R","c":"b","x":33.75,"y":4},{"r":"R","c":"b","x":33.25,"y":3},{"r":"R","c":"b","x":32.75,"y":4},{"r":"R","c":"b","x":32.25,"y":5},{"r":"R","c":"b","x":31.75,"y":10},{"r":"R","c":"b","x":31.25,"y":14},{"r":"R","c":"b","x":30.75,"y":16},{"r":"R","c":"b","x":30.25,"y":15},{"r":"R","c":"b","x":29.75,"y":9},
{"r":"R","c":"d","x":45.75,"y":2},{"r":"R","c":"d","x":45.25,"y":3},{"r":"R","c":"d","x":44.75,"y":3},{"r":"R","c":"d","x":44.25,"y":5},{"r":"R","c":"d","x":43.75,"y":9},{"r":"R","c":"d","x":43.25,"y":29},{"r":"R","c":"d","x":42.75,"y":11},{"r":"R","c":"d","x":42.25,"y":5},{"r":"R","c":"d","x":41.75,"y":5},{"r":"R","c":"d","x":41.25,"y":4},{"r":"R","c":"d","x":40.75,"y":2},
{"r":"R","c":"g","x":29.25,"y":4},{"r":"R","c":"g","x":28.75,"y":5},{"r":"R","c":"g","x":28.25,"y":6},{"r":"R","c":"g","x":27.75,"y":8},{"r":"R","c":"g","x":27.25,"y":11},{"r":"R","c":"g","x":26.75,"y":13},{"r":"R","c":"g","x":26.25,"y":9},{"r":"R","c":"g","x":25.75,"y":6},{"r":"R","c":"g","x":25.25,"y":5},{"r":"R","c":"g","x":24.75,"y":3},
{"r":"A","c":"a","x":55.75,"y":10},{"r":"A","c":"a","x":55.25,"y":31},{"r":"A","c":"a","x":54.75,"y":16},{"r":"A","c":"a","x":54.25,"y":17},{"r":"A","c":"a","x":53.75,"y":14},{"r":"A","c":"a","x":53.25,"y":15},{"r":"A","c":"a","x":52.75,"y":13},{"r":"A","c":"a","x":52.25,"y":29},{"r":"A","c":"a","x":51.75,"y":14},{"r":"A","c":"a","x":51.25,"y":12},{"r":"A","c":"a","x":50.75,"y":13},{"r":"A","c":"a","x":50.25,"y":12},{"r":"A","c":"a","x":49.75,"y":8},{"r":"A","c":"a","x":49.25,"y":7},{"r":"A","c":"a","x":48.75,"y":5},{"r":"A","c":"a","x":48.25,"y":3},{"r":"A","c":"a","x":47.75,"y":3},{"r":"A","c":"a","x":47.25,"y":2},
{"r":"A","c":"b","x":24.25,"y":2},{"r":"A","c":"b","x":23.75,"y":2},{"r":"A","c":"b","x":23.25,"y":3},{"r":"A","c":"b","x":22.75,"y":3},{"r":"A","c":"b","x":22.25,"y":5},{"r":"A","c":"b","x":21.75,"y":5},{"r":"A","c":"b","x":21.25,"y":5},{"r":"A","c":"b","x":20.75,"y":6},{"r":"A","c":"b","x":20.25,"y":9},{"r":"A","c":"b","x":19.75,"y":12},{"r":"A","c":"b","x":19.25,"y":22},{"r":"A","c":"b","x":18.75,"y":24},{"r":"A","c":"b","x":18.25,"y":23},{"r":"A","c":"b","x":17.75,"y":24},{"r":"A","c":"b","x":17.25,"y":17},{"r":"A","c":"b","x":16.75,"y":8},{"r":"A","c":"b","x":16.25,"y":5},{"r":"A","c":"b","x":15.75,"y":2},{"r":"A","c":"b","x":15.25,"y":2}
]},
"facet": {"row": {"field": "r", "type": "nominal", "sort": ["V","Y","W","T","S","P","F","M","K","L","I","H","G","E","Q","C","D","N","R","A"], "header": {"labels": false, "title": null}}},
"spacing": {"row": 0.74},
"spec": {
"width": 524.3,
"height": 36,
"layer": [
{"transform": [{"filter": "isValid(datum.y)"}],
 "mark": {"type": "bar", "orient": "vertical", "size": 4},
 "encoding": {
  "x": {"field": "x", "type": "quantitative", "title": "ppm",
        "scale": {"domain": [6.28, 74.28], "reverse": true, "nice": false, "zero": false},
        "axis": {"values": [70,60,50,40,30,20,10], "grid": true, "gridColor": "#000000", "gridWidth": 1.2, "gridDash": [0, 32.5, 3.5, 10], "gridOpacity": 1, "ticks": false, "tickSize": 0, "domain": false, "labelFont": "DejaVu Sans", "labelFontWeight": "bold", "labelFontSize": 13.5, "labelColor": "#000000", "labelPadding": 3, "labelFlush": false, "labelOverlap": false, "titleFont": "DejaVu Sans", "titleFontWeight": "bold", "titleFontSize": 13.5, "titleColor": "#000000", "titleX": 532, "titleY": 3, "titleAlign": "left", "titleBaseline": "top", "titleAnchor": null}},
  "y": {"field": "y", "type": "quantitative", "stack": null, "scale": {"domain": [-3.5, 32.5], "nice": false}, "axis": null},
  "color": {"field": "c", "type": "nominal",
        "scale": {"domain": ["a","b","g","d","e"], "range": ["#00aa00","#0000c8","#f07800","#a01810","#800060"]},
        "legend": {"orient": "none", "legendX": 12.6, "legendY": -28.8, "columns": 3, "title": "Carbon Chemical Shift Statistics", "titleOrient": "right", "titleAnchor": "start", "titleBaseline": "top", "titlePadding": 24, "titleLimit": 400, "titleFont": "DejaVu Sans", "titleFontSize": 17, "titleFontWeight": "bold", "titleColor": "#000000", "padding": 0, "symbolType": "M-1.48,-1H1.48V1H-1.48Z", "symbolSize": 324, "symbolStrokeWidth": 0, "symbolOpacity": 1, "labelFont": "DejaVu Sans", "labelFontWeight": "bold", "labelFontSize": 17, "labelColor": "#000000", "labelOffset": 9.3, "columnPadding": 25, "rowPadding": 2.7, "labelExpr": "{'a':'Cα','b':'Cβ','g':'Cγ','d':'Cδ','e':'Cε'}[datum.label]"}}
 }},
{"transform": [{"filter": "isValid(datum.n) && indexof(['V','Y','W','T','S','A'], datum.r) >= 0"}],
 "mark": {"type": "rule", "color": "#111111", "strokeWidth": 1.3},
 "encoding": {"x": {"datum": 74.28, "type": "quantitative", "title": "ppm"}, "x2": {"datum": 6.28}, "y": {"datum": 0, "type": "quantitative", "axis": null}}},
{"transform": [{"filter": "isValid(datum.n) && indexof(['V','Y','W','T','S','A'], datum.r) < 0"}],
 "mark": {"type": "rule", "color": "#111111", "strokeWidth": 1.3},
 "encoding": {"x": {"datum": 68.83, "type": "quantitative", "title": "ppm"}, "x2": {"datum": 6.28}, "y": {"datum": 0, "type": "quantitative", "axis": null}}},
{"transform": [{"filter": "isValid(datum.n)"}],
 "mark": {"type": "text", "align": "center", "baseline": "alphabetic", "dy": -4.5, "font": "DejaVu Sans", "fontWeight": "bold", "fontSize": 16, "color": "#000000"},
 "encoding": {"x": {"datum": 8.0, "type": "quantitative", "title": "ppm"}, "y": {"datum": 0, "type": "quantitative", "axis": null}, "text": {"field": "r"}}},
{"transform": [{"filter": "isValid(datum.n)"}],
 "mark": {"type": "text", "align": "left", "baseline": "alphabetic", "dy": -4.5, "font": "DejaVu Sans", "fontWeight": "bold", "fontSize": 16, "color": "#000000"},
 "encoding": {"x": {"datum": 3.95, "type": "quantitative", "title": "ppm"}, "y": {"datum": 0, "type": "quantitative", "axis": null}, "text": {"field": "n"}}},
{"transform": [{"filter": "isValid(datum.t) && datum.r == 'I'"}],
 "mark": {"type": "text", "align": "center", "baseline": "middle", "font": "DejaVu Sans", "fontWeight": "bold", "fontSize": 14, "color": "#f07800"},
 "encoding": {"x": {"field": "x", "type": "quantitative", "title": "ppm"}, "y": {"datum": 17, "type": "quantitative", "axis": null}, "text": {"field": "t"}}},
{"transform": [{"filter": "isValid(datum.t) && datum.r == 'C'"}],
 "mark": {"type": "text", "align": "center", "baseline": "middle", "font": "DejaVu Sans", "fontWeight": "bold", "fontSize": 14, "color": "#0000c8"},
 "encoding": {"x": {"field": "x", "type": "quantitative", "title": "ppm"}, "y": {"datum": 19, "type": "quantitative", "axis": null}, "text": {"field": "t"}}},
{"transform": [{"filter": "isValid(datum.n) && datum.r == 'H'"}],
 "mark": {"type": "text", "angle": 270, "align": "center", "baseline": "middle", "font": "Liberation Serif", "fontStyle": "italic", "fontWeight": "bold", "fontSize": 23.5, "color": "#8a8a8a", "dx": 1, "dy": 1},
 "encoding": {"x": {"datum": 73.0, "type": "quantitative", "title": "ppm"}, "y": {"datum": -10.5, "type": "quantitative", "axis": null}, "text": {"value": "From BMRB restricted data (2001) by Henry Jonker"}}},
{"transform": [{"filter": "isValid(datum.n) && datum.r == 'H'"}],
 "mark": {"type": "text", "angle": 270, "align": "center", "baseline": "middle", "font": "Liberation Serif", "fontStyle": "italic", "fontWeight": "bold", "fontSize": 23.5, "color": "#f4f4f4"},
 "encoding": {"x": {"datum": 73.0, "type": "quantitative", "title": "ppm"}, "y": {"datum": -10.5, "type": "quantitative", "axis": null}, "text": {"value": "From BMRB restricted data (2001) by Henry Jonker"}}}
]
},
"config": {"view": {"stroke": null}}
}
